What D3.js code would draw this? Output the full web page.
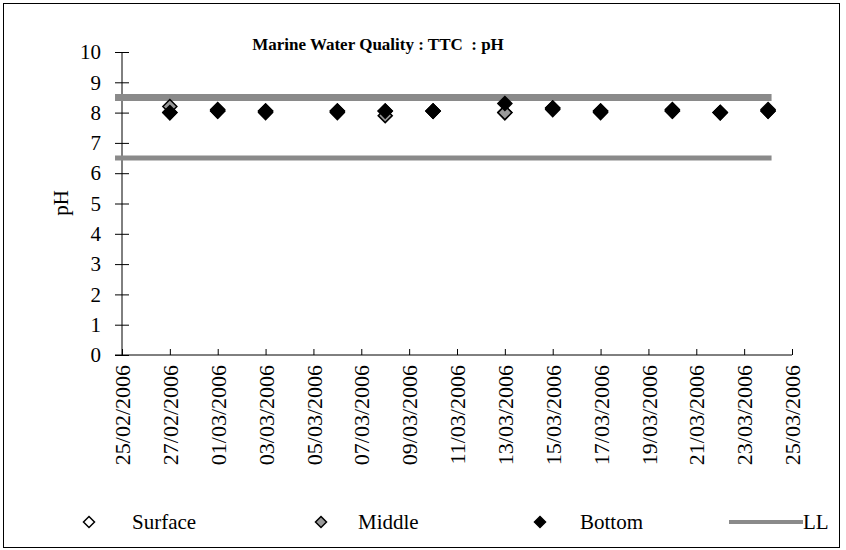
<!DOCTYPE html>
<html><head><meta charset="utf-8">
<script src="https://cdn.jsdelivr.net/npm/d3@7"></script>
<style>body{margin:0;background:#fff}svg{display:block}text{font-family:"Liberation Serif","Times New Roman",serif;fill:#000}</style>
</head><body><svg id="c" width="846" height="550"></svg>
<script>
const dates = ["27/02/2006","01/03/2006","03/03/2006","06/03/2006","08/03/2006","10/03/2006","13/03/2006","15/03/2006","17/03/2006","20/03/2006","22/03/2006","24/03/2006"];
const surface = [8.0, 8.1, 8.0, 8.0, 8.05, 8.05, 8.0, 8.1, 8.0, 8.05, 8.0, 8.1];
const middle  = [8.2, 8.05, 8.05, 8.05, 7.9, 8.05, 8.0, 8.15, 8.05, 8.05, 8.0, 8.05];
const bottom  = [8.0, 8.05, 8.05, 8.05, 8.05, 8.05, 8.3, 8.15, 8.05, 8.1, 8.0, 8.05];
const limitValues = [8.5, 6.5];
const limitStart = "2006-02-24T17:00";
const limitEnd = "2006-03-24T03:30";
const xTickLabels = ["25/02/2006","27/02/2006","01/03/2006","03/03/2006","05/03/2006","07/03/2006","09/03/2006","11/03/2006","13/03/2006","15/03/2006","17/03/2006","19/03/2006","21/03/2006","23/03/2006","25/03/2006"];
const yTicks = [0,1,2,3,4,5,6,7,8,9,10];
const seriesNames = ["Surface","Middle","Bottom"];
const title = "Marine Water Quality : TTC  : pH";

const parse = d3.timeParse("%d/%m/%Y");
const svg = d3.select("#c");
svg.append("rect").attr("x",3.5).attr("y",3.5).attr("width",836).attr("height",544)
  .attr("fill","none").attr("stroke","#000").attr("stroke-width",1);

const x = d3.scaleTime().domain([parse("25/02/2006"), parse("25/03/2006")]).range([122, 792]);
const y = d3.scaleLinear().domain([0,10]).range([355, 52]);

// x axis
const xa = svg.append("g").attr("transform","translate(0,355)")
  .call(d3.axisBottom(x).tickValues(xTickLabels.map(parse)).tickSize(-6).tickFormat(d3.timeFormat("%d/%m/%Y")));
xa.select(".domain").attr("d","M115,0H792").attr("stroke","#000");
xa.selectAll(".tick line").attr("stroke","#000");
xa.selectAll(".tick text").attr("transform","rotate(-90)").attr("x",-10).attr("y",0).attr("dy","0.35em")
  .attr("text-anchor","end").style("font-size","22px").style("font-family","Liberation Serif");

// y axis
const ya = svg.append("g").attr("transform","translate(122,0)")
  .call(d3.axisLeft(y).tickValues(yTicks).tickSize(7).tickPadding(14).tickFormat(d3.format("d")));
ya.select(".domain").attr("d","M0,52V355").attr("stroke","#000");
ya.selectAll(".tick line").attr("x1",-7).attr("x2",7).attr("stroke","#000");
ya.selectAll(".tick text").style("font-size","21px").style("font-family","Liberation Serif");

// limit lines
const lw = [7,5];
limitValues.forEach((v,i)=>{
  svg.append("line").attr("x1",x(new Date(limitStart))).attr("x2",x(new Date(limitEnd)))
    .attr("y1",y(v)).attr("y2",y(v)).attr("stroke","#8a8a8a").attr("stroke-width",lw[i]);
});

function dpath(s){ return `M0,${-s}L${s},0L0,${s}L${-s},0Z`; }
const styles = [{fill:"#fff",stroke:"#000"},{fill:"#999",stroke:"#000"},{fill:"#000",stroke:"#000"}];
[surface, middle, bottom].forEach((vals,si)=>{
  svg.append("g").selectAll("path").data(vals).join("path")
    .attr("d",dpath(7))
    .attr("transform",(d,i)=>`translate(${x(parse(dates[i]))},${y(d)})`)
    .attr("fill",styles[si].fill).attr("stroke",styles[si].stroke).attr("stroke-width",1.5);
});

// title
svg.append("text").attr("x",378).attr("y",50).attr("text-anchor","middle")
  .attr("xml:space","preserve").style("white-space","pre")
  .style("font-size","17px").style("font-weight","bold").text(title);
// y label
svg.append("text").attr("transform","translate(68,203) rotate(-90)").attr("text-anchor","middle")
  .style("font-size","21px").text("pH");

// legend
const legX = [89, 321, 540];
const legTX = [132, 358, 580];
seriesNames.forEach((n,i)=>{
  svg.append("path").attr("d",dpath(5.5)).attr("transform",`translate(${legX[i]},522)`)
    .attr("fill",styles[i].fill).attr("stroke","#000").attr("stroke-width",1.5);
  svg.append("text").attr("x",legTX[i]).attr("y",522).attr("dy","0.35em").style("font-size","21px").text(n);
});
svg.append("line").attr("x1",729).attr("x2",803).attr("y1",522).attr("y2",522).attr("stroke","#8a8a8a").attr("stroke-width",4);
svg.append("text").attr("x",803).attr("y",522).attr("dy","0.35em").style("font-size","21px").text("LL");
</script></body></html>
